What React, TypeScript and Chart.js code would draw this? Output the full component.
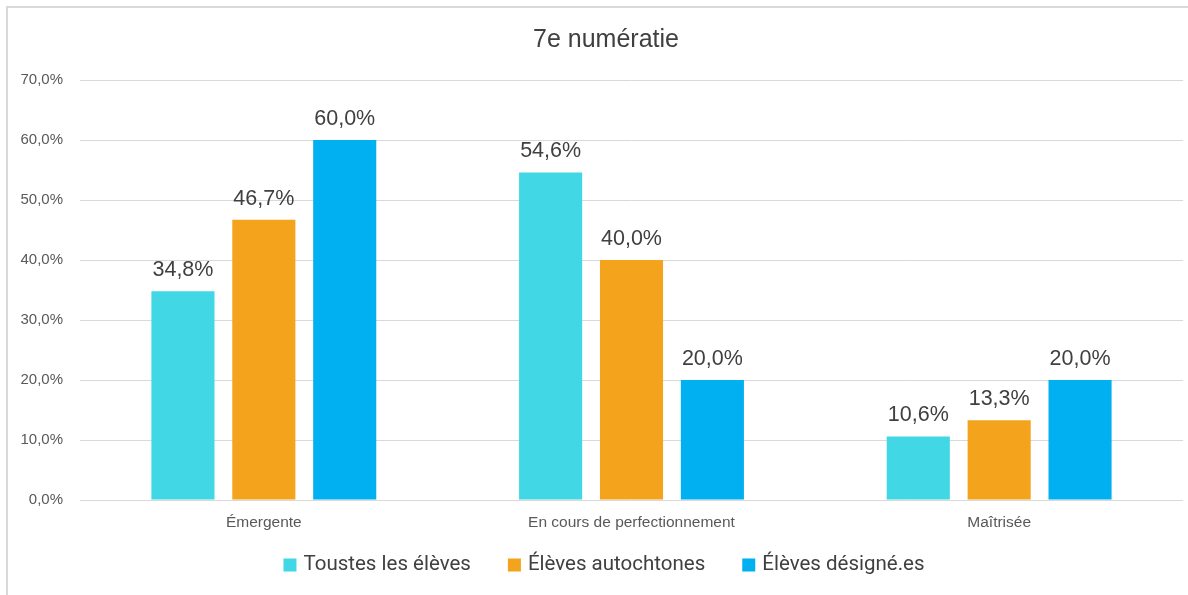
import React, { useEffect, useRef } from "react";
import { Chart, registerables } from "chart.js";

Chart.register(...registerables);

const categories = ["Émergente", "En cours de perfectionnement", "Maîtrisée"];
const seriesNames = ["Toustes les élèves", "Élèves autochtones", "Élèves désigné.es"];
const toustes = [34.8, 54.6, 10.6];
const autochtones = [46.7, 40.0, 13.3];
const designes = [60.0, 20.0, 20.0];
const colors = ["#41D7E5", "#F4A31C", "#00B0F0"];
const titleText = "7e numératie";

const fmt = (v: number) => v.toFixed(1).replace(".", ",") + "%";

const FONT = "'Liberation Sans', 'Helvetica', Arial, sans-serif";
const LEGEND_FONT = "Roboto, 'Liberation Sans', sans-serif";

const labelPlugin = {
  id: "dataLabels",
  afterDatasetsDraw(chart: any) {
    const ctx = chart.ctx;
    ctx.save();
    ctx.font = `21.5px ${FONT}`;
    ctx.fillStyle = "#404040";
    ctx.textAlign = "center";
    ctx.textBaseline = "alphabetic";
    chart.data.datasets.forEach((ds: any, i: number) => {
      const meta = chart.getDatasetMeta(i);
      meta.data.forEach((bar: any, j: number) => {
        ctx.fillText(fmt(ds.data[j]), bar.x, bar.y - 15);
      });
    });
    ctx.restore();
  },
};

const titlePlugin = {
  id: "customTitle",
  afterDraw(chart: any) {
    const ctx = chart.ctx;
    ctx.save();
    ctx.font = `25px ${FONT}`;
    ctx.fillStyle = "#404040";
    ctx.textAlign = "center";
    ctx.textBaseline = "middle";
    ctx.fillText(titleText, 606, 40);
    ctx.restore();
  },
};

const legendPlugin = {
  id: "customLegend",
  afterDraw(chart: any) {
    const ctx = chart.ctx;
    ctx.save();
    ctx.font = `20.5px ${LEGEND_FONT}`;
    const box = 13;
    const boxGap = 7;
    const itemGap = 37;
    const widths = seriesNames.map((n) => ctx.measureText(n).width);
    const total = widths.reduce((a, w) => a + box + boxGap + w, 0) + itemGap * (seriesNames.length - 1);
    let x = 604 - total / 2;
    const y = 565;
    ctx.textBaseline = "middle";
    ctx.textAlign = "left";
    seriesNames.forEach((n, i) => {
      ctx.fillStyle = colors[i];
      ctx.fillRect(x, y - box / 2, box, box);
      ctx.fillStyle = "#404040";
      ctx.fillText(n, x + box + boxGap, y);
      x += box + boxGap + widths[i] + itemGap;
    });
    ctx.restore();
  },
};

export default function App() {
  const ref = useRef<HTMLCanvasElement | null>(null);
  useEffect(() => {
    if (!ref.current) return;
    const chart = new Chart(ref.current, {
      type: "bar",
      data: {
        labels: categories,
        datasets: [toustes, autochtones, designes].map((d, i) => ({
          label: seriesNames[i],
          data: d,
          backgroundColor: colors[i],
          categoryPercentage: 0.66,
          barPercentage: 0.78,
        })),
      },
      options: {
        animation: false,
        responsive: false,
        maintainAspectRatio: false,
        layout: { padding: { left: 10, right: 5, top: 80, bottom: 55 } },
        plugins: {
          title: { display: false },
          tooltip: { enabled: false },
          legend: { display: false },
        },
        scales: {
          x: {
            grid: { display: false },
            border: { display: false },
            ticks: { color: "#595959", font: { size: 15.5, family: FONT }, padding: 5 },
            afterFit: (s: any) => { s.height = 40; },
          },
          y: {
            min: 0,
            max: 70,
            ticks: {
              stepSize: 10,
              color: "#595959",
              font: { size: 15, family: FONT },
              padding: 17,
              callback: (v: any) => fmt(Number(v)),
            },
            grid: { color: "#D9D9D9", drawTicks: false, lineWidth: 1 },
            border: { display: false },
            afterFit: (s: any) => { s.width = 70; },
          },
        },
      },
      plugins: [labelPlugin, titlePlugin, legendPlugin],
    });
    return () => chart.destroy();
  }, []);
  return (
    <div style={{ position: "fixed", left: 0, top: 0, width: 1188, height: 595, background: "#fff" }}>
      <div style={{ position: "absolute", left: 6, top: 6, width: 1200, height: 600, borderLeft: "2px solid #D9D9D9", borderTop: "2px solid #D9D9D9" }} />
      <canvas ref={ref} width={1188} height={595} style={{ position: "absolute", left: 0, top: 0 }} />
    </div>
  );
}
